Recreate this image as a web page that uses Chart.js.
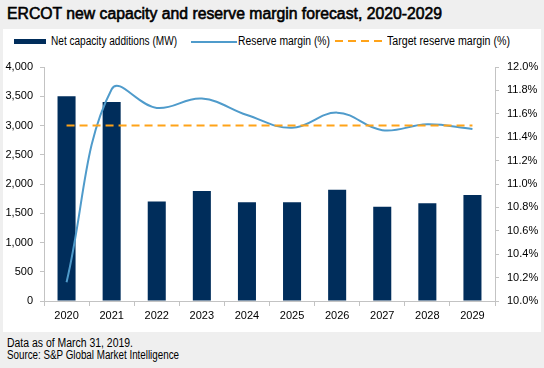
<!DOCTYPE html>
<html>
<head>
<meta charset="utf-8">
<script src="https://cdn.jsdelivr.net/npm/chart.js@4/dist/chart.umd.min.js"></script>
<style>
  html, body { margin: 0; padding: 0; }
  body { width: 544px; height: 368px; background: #efefef; position: relative; overflow: hidden;
         font-family: "Liberation Sans", Arial, sans-serif; color: #000; }
  #panel { position: absolute; left: 3px; top: 29px; width: 538px; height: 303px; background: #fff; }
  .t { position: absolute; white-space: nowrap; transform-origin: 0 50%; }
  #title { left: 7px; top: 5px; font-size: 16px; line-height: 18px; font-weight: normal; -webkit-text-stroke: 0.6px #000; }
  .ft { left: 7px; font-size: 12px; line-height: 12px; }
  .lg { font-size: 12px; top: 34px; }
  .mk { position: absolute; }
  canvas { position: absolute; left: 0; top: 0; }
</style>
</head>
<body>
<div id="panel"></div>
<div class="t" id="title" data-w="435">ERCOT new capacity and reserve margin forecast, 2020-2029</div>
<div class="mk" style="left:14px;top:39px;width:32px;height:5px;background:#002d5b"></div>
<div class="t lg" style="left:51px" data-w="126">Net capacity additions (MW)</div>
<div class="mk" style="left:191px;top:40.5px;width:46px;height:2px;background:#4f9bcb"></div>
<div class="t lg" style="left:238px" data-w="92">Reserve margin (%)</div>
<svg class="mk" style="left:335px;top:38px" width="48" height="6"><line x1="0" y1="3" x2="48" y2="3" stroke="#ffa319" stroke-width="2.2" stroke-dasharray="8,5"/></svg>
<div class="t lg" style="left:387px" data-w="123">Target reserve margin (%)</div>
<div class="t ft" style="top:337px" data-w="126">Data as of March 31, 2019.</div>
<div class="t ft" style="top:349px" data-w="172">Source: S&amp;P Global Market Intelligence</div>
<canvas id="c" width="544" height="368"></canvas>
<script>
const years = ['2020','2021','2022','2023','2024','2025','2026','2027','2028','2029'];
const capacityMW = [3500, 3400, 1700, 1880, 1690, 1690, 1900, 1610, 1670, 1810];
const reserveMarginPct = [10.16, 11.81, 11.65, 11.73, 11.59, 11.48, 11.61, 11.46, 11.51, 11.47];
const targetMarginPct = [11.5, 11.5, 11.5, 11.5, 11.5, 11.5, 11.5, 11.5, 11.5, 11.5];

document.querySelectorAll('[data-w]').forEach(el => {
  const w = el.getBoundingClientRect().width;
  el.style.transform = 'scaleX(' + (parseFloat(el.dataset.w) / w) + ')';
});

const tickFont = { family: '"Liberation Sans", Arial, sans-serif', size: 11 };
const axisGrey = '#c3c3c3';

new Chart(document.getElementById('c'), {
  type: 'bar',
  data: {
    labels: years,
    datasets: [
      { type: 'line', label: 'Target reserve margin (%)', data: targetMarginPct, yAxisID: 'y1',
        borderColor: '#ffa319', borderWidth: 2.2, borderDash: [8, 5], pointRadius: 0, tension: 0, order: 1 },
      { type: 'line', label: 'Reserve margin (%)', data: reserveMarginPct, yAxisID: 'y1',
        borderColor: '#4f9bcb', borderWidth: 2, pointRadius: 0, tension: 0.4, order: 2 },
      { type: 'bar', label: 'Net capacity additions (MW)', data: capacityMW, yAxisID: 'y',
        backgroundColor: '#002d5b', barPercentage: 0.4, categoryPercentage: 1, order: 3 }
    ]
  },
  options: {
    responsive: false,
    animation: false,
    layout: { padding: { top: 67, left: 0, right: 0, bottom: 0 } },
    plugins: { legend: { display: false }, tooltip: { enabled: false } },
    scales: {
      x: {
        offset: true,
        grid: { offset: true, drawOnChartArea: false, tickLength: 5, color: axisGrey },
        border: { color: axisGrey },
        ticks: { font: tickFont, color: '#000', padding: 3, maxRotation: 0 },
        afterFit: s => { s.height = 67; }
      },
      y: {
        position: 'left', min: 0, max: 4000,
        grid: { drawOnChartArea: false, tickLength: 4, color: axisGrey },
        border: { color: axisGrey },
        ticks: { stepSize: 500, font: tickFont, color: '#000', padding: 7,
                 callback: v => v.toLocaleString('en-US') },
        afterFit: s => { s.width = 44; }
      },
      y1: {
        position: 'right', min: 10, max: 12,
        grid: { drawOnChartArea: false, tickLength: 4, color: axisGrey },
        border: { color: axisGrey },
        ticks: { stepSize: 0.2, font: tickFont, color: '#000', padding: 8,
                 callback: v => v.toFixed(1) + '%' },
        afterFit: s => { s.width = 49; }
      }
    }
  }
});
</script>
</body>
</html>
